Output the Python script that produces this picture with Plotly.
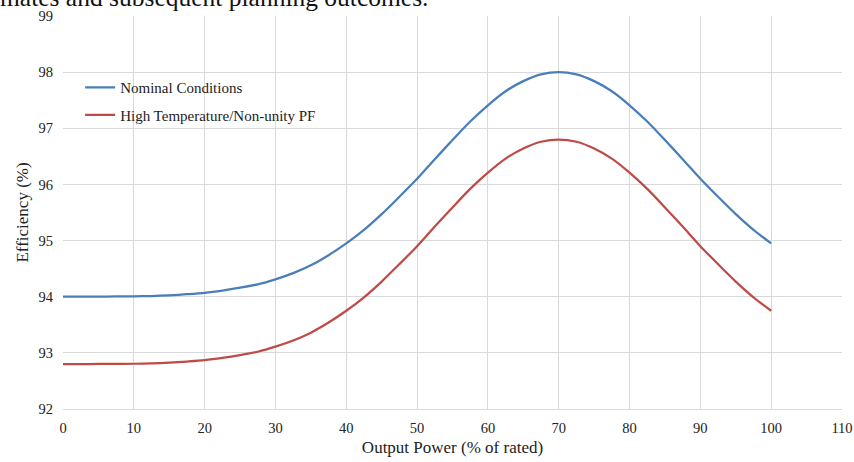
import plotly.graph_objects as go

output_power = [0, 2.5, 5, 7.5, 10, 12.5, 15, 17.5, 20, 22.5, 25, 27.5, 30, 32.5, 35, 37.5, 40,
                42.5, 45, 47.5, 50, 52.5, 55, 57.5, 60, 62.5, 65, 67.5, 70, 72.5, 75, 77.5, 80,
                82.5, 85, 87.5, 90, 92.5, 95, 97.5, 100]
nominal = [94.000, 94.001, 94.002, 94.004, 94.006, 94.012, 94.025, 94.045, 94.07, 94.11, 94.16, 94.22,
           94.31, 94.42, 94.56, 94.74, 94.95, 95.19, 95.47, 95.78, 96.10, 96.45, 96.79, 97.12,
           97.41, 97.66, 97.84, 97.96, 98.00, 97.96, 97.84, 97.66, 97.41, 97.12, 96.79, 96.45,
           96.10, 95.78, 95.47, 95.19, 94.95]
high_temp = [92.800, 92.801, 92.802, 92.804, 92.806, 92.812, 92.825, 92.845, 92.87, 92.91, 92.96, 93.02,
             93.11, 93.22, 93.36, 93.54, 93.75, 93.99, 94.27, 94.58, 94.90, 95.25, 95.59, 95.92,
             96.21, 96.46, 96.64, 96.76, 96.80, 96.76, 96.64, 96.46, 96.21, 95.92, 95.59, 95.25,
             94.90, 94.58, 94.27, 93.99, 93.75]
x_ticks = [0, 10, 20, 30, 40, 50, 60, 70, 80, 90, 100, 110]
y_ticks = [92, 93, 94, 95, 96, 97, 98, 99]

FONT = "Liberation Serif"

fig = go.Figure()
fig.add_trace(go.Scatter(x=output_power, y=nominal, mode="lines", name="Nominal Conditions",
                         legendgroup="a",
                         line=dict(color="#4a7ebb", width=2.25, shape="spline", smoothing=0.8)))
fig.add_trace(go.Scatter(x=output_power, y=high_temp, mode="lines", name="High Temperature/Non-unity PF",
                         legendgroup="b",
                         line=dict(color="#be4b48", width=2.25, shape="spline", smoothing=0.8)))

fig.update_layout(
    width=854, height=462,
    margin=dict(l=63, r=12, t=16, b=53),
    paper_bgcolor="white", plot_bgcolor="white",
    font=dict(family=FONT, size=14, color="#222222"),
    showlegend=True,
    legend=dict(x=0.022, y=0.86, xanchor="left", yanchor="top", bgcolor="rgba(0,0,0,0)",
                font=dict(family=FONT, size=15, color="#222222"), itemwidth=30,
                tracegroupgap=5),
    xaxis=dict(range=[0, 110], tickvals=x_ticks, showgrid=True, gridcolor="#d9d9d9", gridwidth=1,
               zeroline=False, showline=True, linecolor="#d9d9d9", linewidth=1, mirror=False,
               ticks="", automargin=False, ticklabelstandoff=6,
               tickfont=dict(family=FONT, size=14.5),
               title=dict(text="Output Power (% of rated)", font=dict(family=FONT, size=17), standoff=5)),
    yaxis=dict(range=[92, 99], tickvals=y_ticks, showgrid=True, gridcolor="#d9d9d9", gridwidth=1,
               zeroline=False, showline=False, ticks="", automargin=False, ticklabelstandoff=9,
               tickfont=dict(family=FONT, size=14.5),
               title=dict(text="Efficiency (%)", font=dict(family=FONT, size=17), standoff=5)),
    annotations=[dict(text="mates and subsequent planning outcomes.", xref="paper", yref="paper",
                      x=-0.083, y=1.0, xanchor="left", yanchor="bottom", yshift=2,
                      showarrow=False, font=dict(family=FONT, size=25.5, color="#111111"))],
)

fig.write_html("out.html", config={"displayModeBar": False},
               post_script="document.body.style.margin='0';")
